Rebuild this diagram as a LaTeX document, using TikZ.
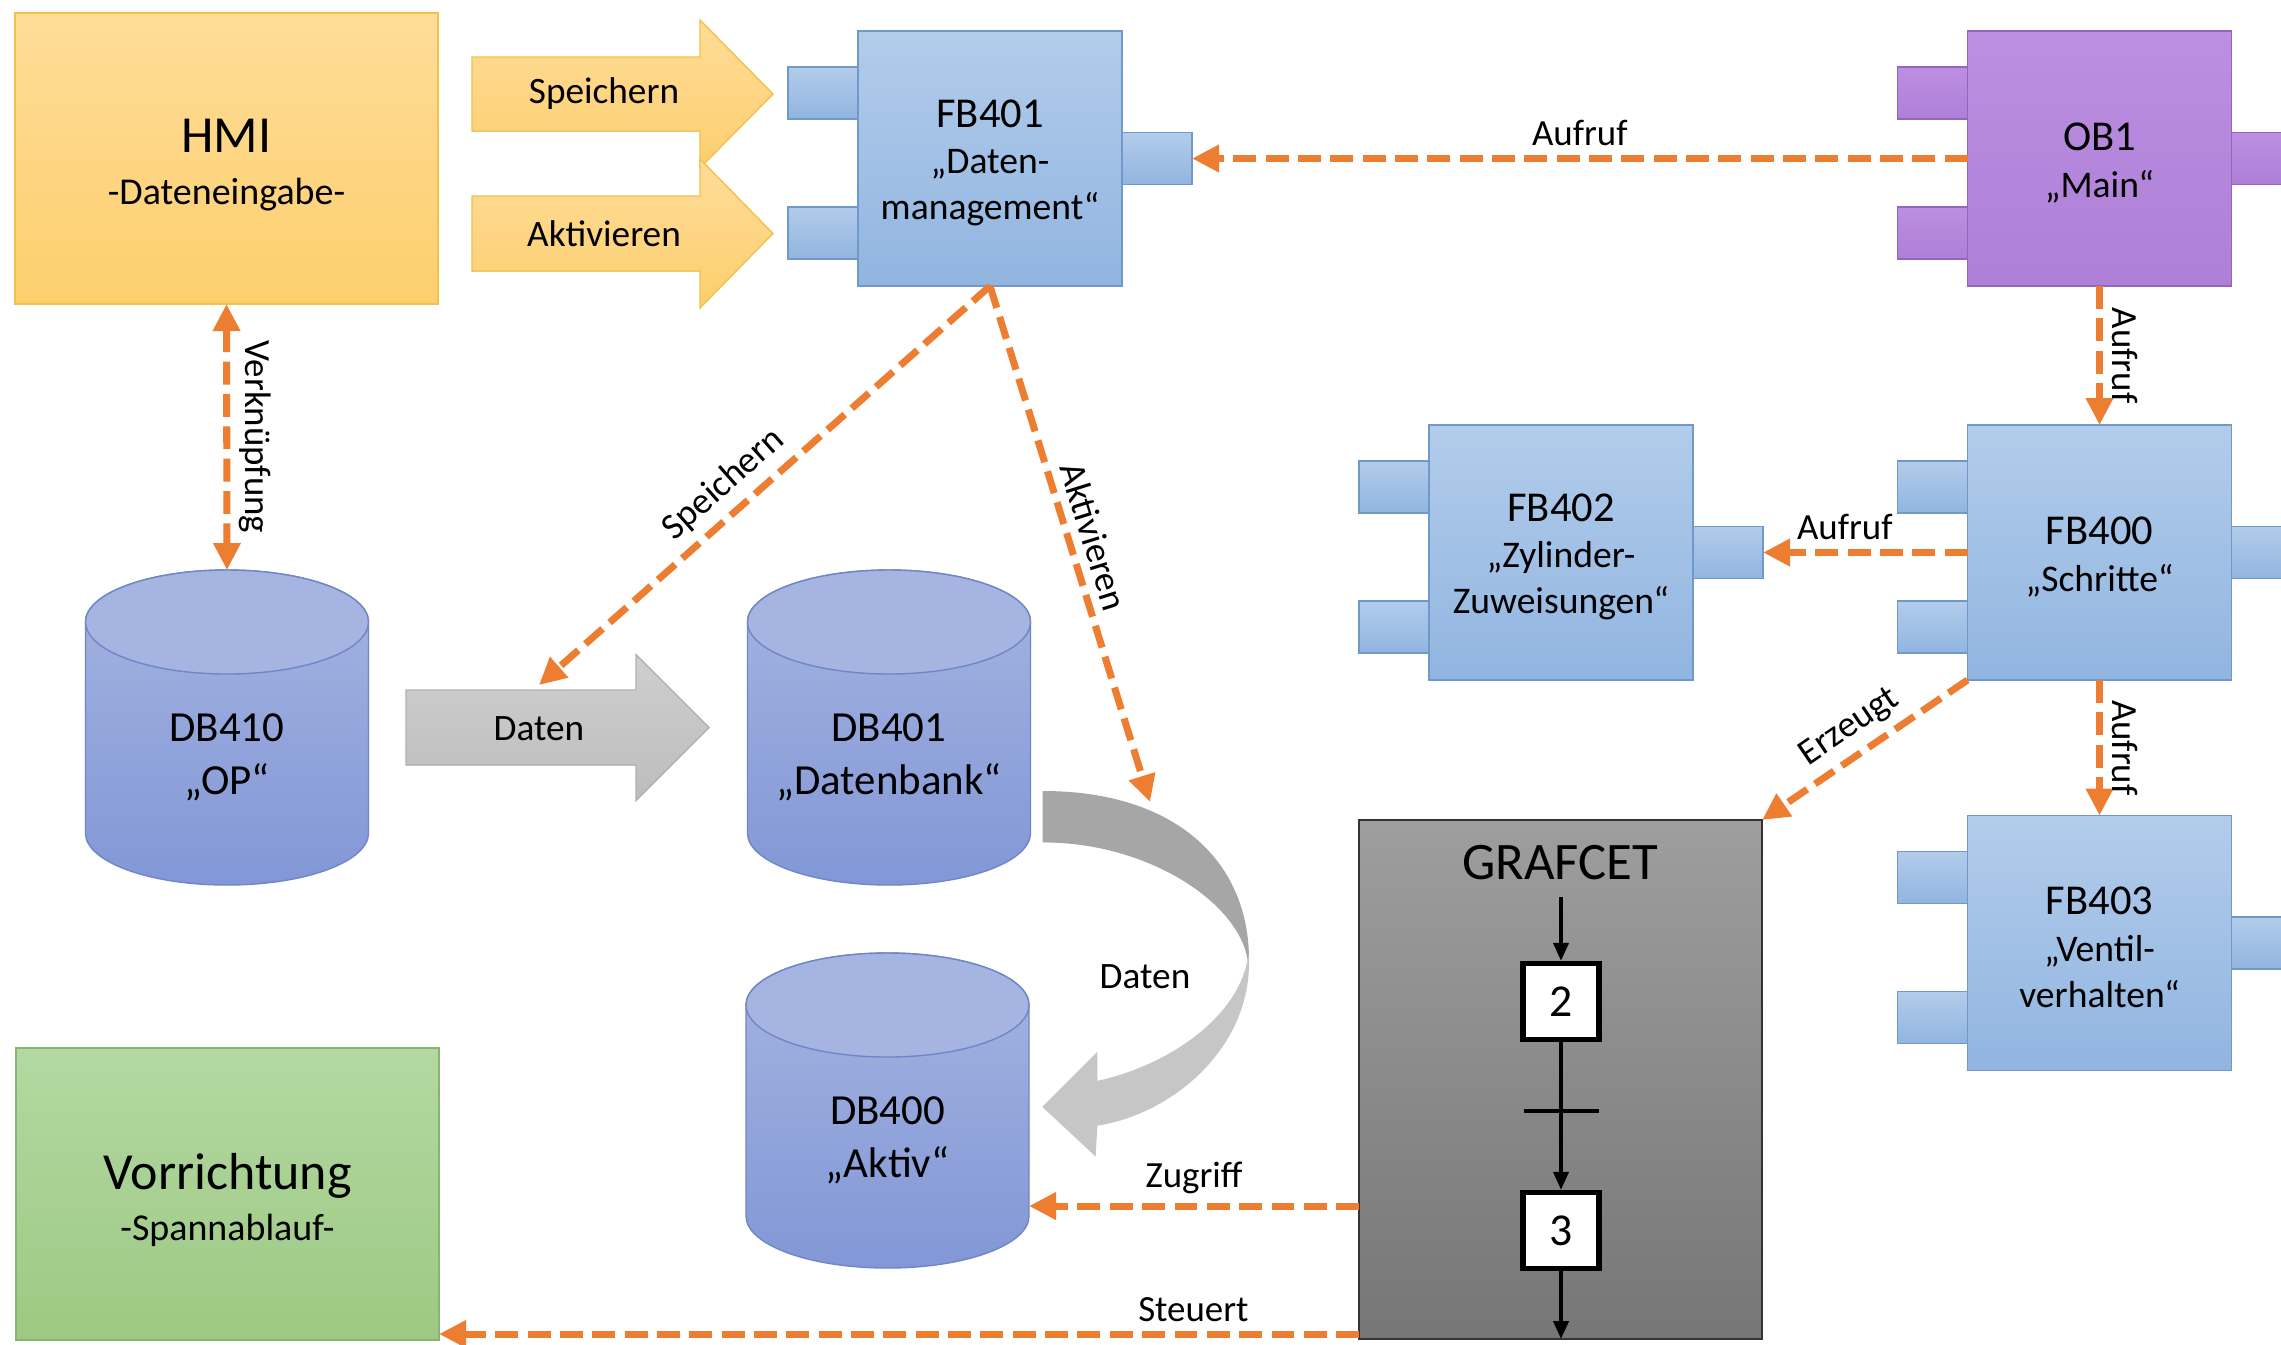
\documentclass[tikz,border=0pt]{standalone}
\usepackage{fontspec}
\setmainfont{Carlito}
\usetikzlibrary{positioning, arrows.meta, calc}
\definecolor{callorange}{HTML}{ED7D31}
\definecolor{fbtop}{HTML}{B2CCEB}
\definecolor{fbbot}{HTML}{91B5E0}
\definecolor{fbline}{HTML}{7198CB}
\definecolor{obtop}{HTML}{BC8FE2}
\definecolor{obbot}{HTML}{AE7FD6}
\definecolor{obline}{HTML}{9266BE}
\definecolor{dbtop}{HTML}{A5B4E1}
\definecolor{dbbot}{HTML}{8297D6}
\definecolor{dbline}{HTML}{6F86C8}
\definecolor{hmitop}{HTML}{FFDC98}
\definecolor{hmibot}{HTML}{FCCF6E}
\definecolor{hmiline}{HTML}{F1C24C}
\definecolor{vortop}{HTML}{B4D8A2}
\definecolor{vorbot}{HTML}{9CC983}
\definecolor{vorline}{HTML}{88B46E}
\definecolor{grtop}{HTML}{9E9E9E}
\definecolor{grbot}{HTML}{767676}
\definecolor{arrgray}{HTML}{C6C6C6}
\definecolor{arrdark}{HTML}{A6A6A6}

\newcommand{\fbtitle}[1]{{\fontsize{12.1}{13}\selectfont #1}}
\newcommand{\bigtitle}[1]{{\fontsize{14.8}{16}\selectfont #1}}
\newcommand{\fbblock}[4]{%
  \node[fbtab=#3] (#1l1) at ($(#2)+(-1.67,0.655)$) {};
  \node[fbtab=#3] (#1l2) at ($(#2)+(-1.67,-0.745)$) {};
  \node[fbtab=#3] (#1r) at ($(#2)+(1.67,0)$) {};
  \node[fbmain=#3] (#1) at (#2) {};
  \node[fbtext] (#1txt) at ($(#2)+(0,-0.045)$) {#4};
}
\newcommand{\dbcyl}[4]{%
  \node[dbbox] (#1) at (#2) {};
  \path[dbbody] ($(#1.north west)+(0,-0.52)$) -- ($(#1.south west)+(0,0.52)$)
    arc[start angle=180, end angle=360, x radius=1.415cm, y radius=0.52cm]
    -- ($(#1.north east)+(0,-0.52)$)
    arc[start angle=0, end angle=180, x radius=1.415cm, y radius=0.52cm] -- cycle;
  \draw[dbline, fill=dbtop] ($(#1.north)+(0,-0.52)$) ellipse[x radius=1.415cm, y radius=0.52cm];
  \node[dbtext] (#1txt) at ($(#1)+(0,-0.30)$) {#3\\#4};
}

\begin{document}
\begin{tikzpicture}[
    call/.style={draw=callorange, line width=2pt, dash pattern=on 6.5pt off 2.7pt,
      >={Triangle[length=0.27cm,width=0.26cm]}, ->},
    lbl/.style={font=\fontsize{10.5}{12}\selectfont, inner sep=2.5pt},
    fbtab/.style={draw=#1line, top color=#1top, bottom color=#1bot, minimum width=0.70cm,
      minimum height=0.52cm, inner sep=0pt, outer sep=0pt},
    fbmain/.style={draw=#1line, top color=#1top, bottom color=#1bot, minimum width=2.64cm,
      minimum height=2.55cm, inner sep=0pt, outer sep=0pt},
    fbtext/.style={align=center, font=\fontsize{10.7}{13.2}\selectfont},
    dbbox/.style={minimum width=2.83cm, minimum height=3.15cm, inner sep=0pt, outer sep=0pt},
    dbbody/.style={draw=dbline, top color=dbtop, bottom color=dbbot},
    dbtext/.style={align=center, font=\fontsize{12.2}{15}\selectfont},
    bigbox/.style={draw=#1line, top color=#1top, bottom color=#1bot, minimum width=4.23cm,
      minimum height=2.91cm, inner sep=0pt, outer sep=0pt},
    bigtext/.style={align=center, font=\fontsize{10.8}{14.6}\selectfont},
    yarrow/.style={draw=hmiline, top color=hmitop, bottom color=hmibot},
    garrow/.style={draw=black!30, top color=black!19, bottom color=black!26},
    arrtext/.style={font=\fontsize{10.6}{12}\selectfont},
    grafbox/.style={draw=black!80, top color=grtop, bottom color=grbot, minimum width=4.03cm,
      minimum height=5.19cm, inner sep=0pt, outer sep=0pt},
    grstep/.style={draw, line width=1.5pt, fill=white, minimum size=0.76cm, inner sep=0pt,
      font=\fontsize{13}{15}\selectfont},
    flow/.style={line width=1.1pt, -{Triangle[length=0.18cm,width=0.15cm]}}
  ]
  \useasboundingbox (0,0) rectangle (22.81,-13.44);
  \clip (0,0) rectangle (22.81,-13.44);
  \fill[white] (0,0) rectangle (22.81,-13.44);

  \node[bigbox=hmi] (hmi) at (2.265,-1.585) {};
  \node[bigtext] (hmitxt) at (2.265,-1.65) {\bigtitle{HMI}\\-Dateneingabe-};
  \node[bigbox=vor, minimum height=2.92cm] (vorr) at (2.275,-11.94) {};
  \node[bigtext] (vorrtxt) at (2.275,-12.0) {\bigtitle{Vorrichtung}\\-Spannablauf-};

  \filldraw[yarrow] (4.72,-0.57) -- (7.00,-0.57) -- (7.00,-0.20) -- (7.73,-0.94) -- (7.00,-1.68) -- (7.00,-1.31) -- (4.72,-1.31) -- cycle;
  \node[arrtext] (spArr) at (6.04,-0.94) {Speichern};
  \filldraw[yarrow] (4.72,-1.96) -- (7.00,-1.96) -- (7.00,-1.59) -- (7.73,-2.335) -- (7.00,-3.08) -- (7.00,-2.71) -- (4.72,-2.71) -- cycle;
  \node[arrtext] (akArr) at (6.04,-2.335) {Aktivieren};

  \fbblock{fb401}{9.90,-1.585}{fb}{\fbtitle{FB401}\\„Daten-\\management“}
  \fbblock{ob1}{20.995,-1.585}{ob}{\fbtitle{OB1}\\„Main“}
  \fbblock{fb402}{15.61,-5.525}{fb}{\fbtitle{FB402}\\„Zylinder-\\Zuweisungen“}
  \fbblock{fb400}{20.995,-5.525}{fb}{\fbtitle{FB400}\\„Schritte“}
  \fbblock{fb403}{20.995,-9.43}{fb}{\fbtitle{FB403}\\„Ventil-\\verhalten“}

  \dbcyl{db410}{2.27,-7.275}{DB410}{„OP“}
  \dbcyl{db401}{8.89,-7.275}{DB401}{„Datenbank“}
  \dbcyl{db400}{8.875,-11.105}{DB400}{„Aktiv“}

  \filldraw[garrow] (4.06,-6.90) -- (6.36,-6.90) -- (6.36,-6.545) -- (7.09,-7.275) -- (6.36,-8.005) -- (6.36,-7.65) -- (4.06,-7.65) -- cycle;
  \node[arrtext] (datArr) at (5.39,-7.29) {Daten};

  \filldraw[draw=arrdark, fill=arrdark] (10.433,-7.917) .. controls (11.733,-7.917) and (12.483,-8.60) .. (12.483,-9.60)
    .. controls (12.40,-9.033) and (11.50,-8.417) .. (10.433,-8.417) -- cycle;
  \filldraw[draw=arrgray, fill=arrgray] (12.483,-9.60) .. controls (12.50,-10.467) and (11.733,-11.133) .. (10.967,-11.25)
    -- (10.95,-11.55) -- (10.433,-11.067) -- (10.967,-10.533) -- (10.967,-10.817)
    .. controls (11.667,-10.667) and (12.367,-10.20) .. (12.483,-9.60) -- cycle;
  \node[arrtext] (datCurve) at (11.45,-9.77) {Daten};

  \node[grafbox] (grafcet) at (15.605,-10.795) {};
  \node[font=\fontsize{15}{17}\selectfont] (gtitle) at (15.60,-8.63) {GRAFCET};
  \node[grstep] (s2) at (15.61,-10.015) {2};
  \node[grstep] (s3) at (15.61,-12.305) {3};
  \coordinate (gin) at (15.61,-8.97);
  \draw[flow] (gin) -- (s2.north);
  \draw[flow] (s2.south) -- (s3.north);
  \coordinate (tr) at ($(s2.south)!0.467!(s3.north)$);
  \draw[line width=1.3pt] ($(tr)+(-0.375,0)$) -- ($(tr)+(0.375,0)$);
  \draw[flow] (s3.south) -- (s3.south |- grafcet.south);

  \coordinate (spTip) at (5.39,-6.85);
  \coordinate (akTip) at (11.50,-8.02);
  \coordinate (zgStart) at ($(grafcet.north west)+(0,-3.86)$);
  \coordinate (stStart) at ($(grafcet.south west)+(0,0.05)$);

  \draw[call] (ob1.west) -- (fb401r.east) node[lbl, midway, above] {Aufruf};
  \draw[call] (ob1.south) -- (fb400.north) node[lbl, midway, rotate=-90, anchor=south] {Aufruf};
  \draw[call] (fb400.west) -- (fb402r.east) node[lbl, pos=0.6, above] {Aufruf};
  \draw[call] (fb400.south) -- (fb403.north) node[lbl, midway, rotate=-90, anchor=south] {Aufruf};
  \draw[call] (fb400.south west) -- (grafcet.north east) node[lbl, midway, sloped, above] {Erzeugt};
  \draw[call] (fb401.south) -- (spTip) node[lbl, pos=0.55, sloped, above] {Speichern};
  \draw[call] (fb401.south) -- (akTip) node[lbl, midway, sloped, above] {Aktivieren};
  \draw[call, <->] (hmi.south) -- (db410.north) node[lbl, midway, rotate=-90, anchor=south] {Verknüpfung};
  \draw[call] (zgStart) -- (zgStart -| db400.east) node[lbl, midway, above] {Zugriff};
  \draw[call] (stStart) -- (stStart -| vorr.east) node[lbl, pos=0.18, above] {Steuert};
\end{tikzpicture}
\end{document}
